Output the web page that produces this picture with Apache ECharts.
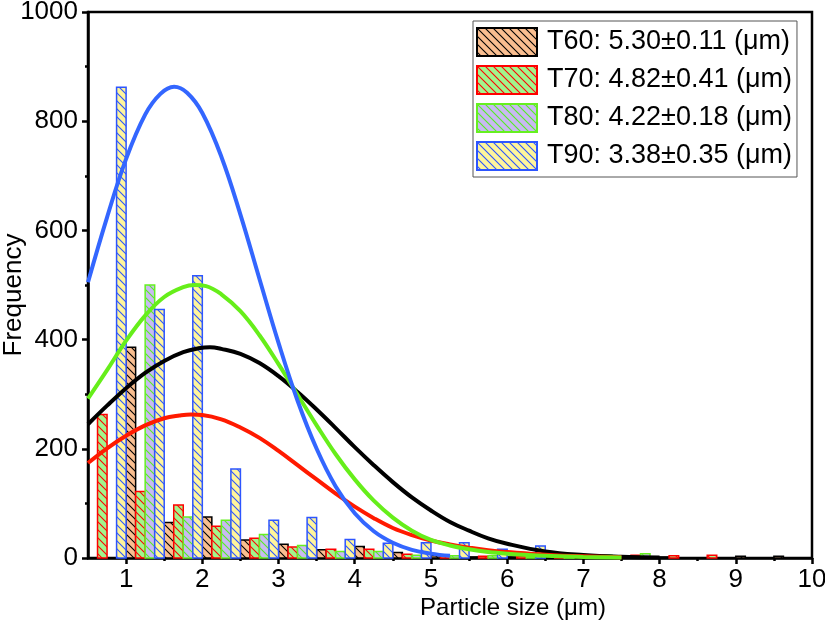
<!DOCTYPE html>
<html><head><meta charset="utf-8">
<script src="https://cdn.jsdelivr.net/npm/echarts@6/dist/echarts.min.js"></script>
<style>html,body{margin:0;padding:0;background:#fff}#c{width:825px;height:627px}</style>
</head><body><div id="c"></div>
<script>
// ---- data ----
const binStarts = [0.5, 1.0, 1.5, 2.0, 2.5, 3.0, 3.5, 4.0, 4.5, 5.0, 5.5, 6.0, 6.5, 7.0, 7.5, 8.0, 8.5, 9.0, 9.5];
const seriesNames = ['T60: 5.30±0.11 (μm)', 'T70: 4.82±0.41 (μm)', 'T80: 4.22±0.18 (μm)', 'T90: 3.38±0.35 (μm)'];
const T60 = [0, 386, 65, 75, 33, 25, 15, 21, 10, 4, 2, 2, 1, 0, 0, 2, 0, 3, 3];
const T70 = [263, 122, 97, 58, 36, 20, 16, 16, 7, 3, 3, 3, 3, 0, 5, 4, 5, 0, 0];
const T80 = [0, 500, 75, 69, 43, 23, 12, 12, 5, 4, 4, 2, 7, 5, 8, 0, 0, 0, 0];
const T90 = [862, 455, 517, 163, 69, 74, 34, 27, 28, 28, 16, 22, 0, 0, 0, 0, 0, 0, 0];

const fitXT60 = [0.5, 0.75, 1.0, 1.25, 1.5, 1.75, 1.95, 2.1, 2.25, 2.5, 2.75, 3.0, 3.25, 3.5, 3.75, 4.0, 4.25, 4.5, 4.75, 5.0, 5.25, 5.5, 5.75, 6.0, 6.5, 7.0, 7.5, 8.0];
const fitT60 = [245, 279, 311, 339, 361, 377, 384, 386, 383, 374, 357, 333, 304, 272, 238, 203, 170, 139, 111, 87, 66, 50, 36, 26, 12, 5.5, 2.2, 0.8];
const fitXT70 = [0.5, 0.75, 1.0, 1.25, 1.5, 1.7, 1.85, 2.0, 2.25, 2.5, 2.75, 3.0, 3.25, 3.5, 3.75, 4.0, 4.25, 4.5, 4.75, 5.0, 5.25, 5.5, 5.75, 6.0, 6.5, 7.0, 7.5];
const fitT70 = [174, 201, 224, 243, 256, 261, 263, 262, 254, 239, 220, 196, 170, 144, 118, 94, 73, 55, 42, 32, 25, 19, 14, 11, 6, 3, 1.5];
const fitXT80 = [0.5, 0.75, 1.0, 1.25, 1.5, 1.75, 1.9, 2.05, 2.25, 2.5, 2.75, 3.0, 3.25, 3.5, 3.75, 4.0, 4.25, 4.5, 4.75, 5.0, 5.25, 5.5, 5.75, 6.0, 6.5, 7.0, 7.5];
const fitT80 = [292, 344, 398, 444, 478, 496, 500, 498, 483, 452, 408, 355, 299, 243, 190, 144, 105, 74, 50, 33, 23, 16, 11, 8, 4, 2, 1];
const fitXT90 = [0.5, 0.75, 1.0, 1.25, 1.45, 1.63, 1.8, 2.0, 2.25, 2.5, 2.75, 3.0, 3.25, 3.5, 3.75, 4.0, 4.25, 4.5, 4.75, 5.0, 5.25];
const fitT90 = [505, 624, 731, 812, 850, 863, 852, 815, 735, 629, 511, 394, 288, 200, 131, 82, 49, 28, 15, 8, 4];

const xMajorTicks = [1, 2, 3, 4, 5, 6, 7, 8, 9, 10];
const xMinorTicks = [1.5, 2.5, 3.5, 4.5, 5.5, 6.5, 7.5, 8.5, 9.5];

// ---- styles ----
const FONT = 'Liberation Sans, Arial, sans-serif';
const subWidth = 0.125;
const barStyles = [
  {bg: '#F9BE90', line: '#000000', edge: '#000000'},
  {bg: '#A2F58C', line: '#FF0000', edge: '#FF0000'},
  {bg: '#C8BAF2', line: '#55EE22', edge: '#66F020'},
  {bg: '#FFF59C', line: '#2D55FF', edge: '#2D55FF'}
];
const lineColors = ['#000000', '#FF1A00', '#66EE1A', '#3366FF'];

function makeHatch(bg, line) {
  const c = document.createElement('canvas');
  c.width = 8; c.height = 8;
  const g = c.getContext('2d');
  g.fillStyle = bg; g.fillRect(0, 0, 8, 8);
  g.strokeStyle = line; g.lineWidth = 1.1;
  g.beginPath();
  g.moveTo(-2, -2); g.lineTo(10, 10);
  g.moveTo(-2, 6); g.lineTo(2, 10);
  g.moveTo(6, -2); g.lineTo(10, 2);
  g.stroke();
  return c;
}
function makeIcon(st) {
  const c = document.createElement('canvas');
  c.width = 62; c.height = 30;
  const g = c.getContext('2d');
  g.fillStyle = g.createPattern(makeHatch(st.bg, st.line), 'repeat');
  g.fillRect(0, 0, 62, 30);
  g.strokeStyle = st.edge; g.lineWidth = 2;
  g.strokeRect(1, 1, 60, 28);
  return 'image://' + c.toDataURL();
}
const patterns = barStyles.map(s => ({image: makeHatch(s.bg, s.line), repeat: 'repeat'}));

const barValues = [T60, T70, T80, T90];
const fitXs = [fitXT60, fitXT70, fitXT80, fitXT90];
const fitValues = [fitT60, fitT70, fitT80, fitT90];

const barSeries = barValues.map((vals, k) => ({
  name: seriesNames[k],
  type: 'custom',
  xAxisIndex: 0, yAxisIndex: 0,
  z: 2,
  data: binStarts.map((b, i) => [b, vals[i]]).filter(d => d[1] > 0),
  renderItem: function (params, api) {
    const x0 = api.value(0) + k * subWidth;
    const v = api.value(1);
    const p0 = api.coord([x0, v]);
    const p1 = api.coord([x0 + subWidth, 0]);
    return {
      type: 'rect',
      shape: {x: p0[0], y: p0[1], width: p1[0] - p0[0], height: p1[1] - p0[1]},
      style: {fill: patterns[k], stroke: barStyles[k].edge, lineWidth: 1.5}
    };
  }
}));

const lineSeries = fitValues.map((vals, k) => ({
  name: 'fit' + k,
  type: 'line',
  xAxisIndex: 0, yAxisIndex: 0,
  z: 5,
  smooth: 0.4,
  showSymbol: false,
  silent: true,
  lineStyle: {color: lineColors[k], width: 4},
  data: vals.map((v, i) => [fitXs[k][i], v])
}));

const chart = echarts.init(document.getElementById('c'), null, {renderer: 'canvas'});
chart.setOption({
  animation: false,
  backgroundColor: '#fff',
  grid: {left: 88, right: 13, top: 12, bottom: 69, outerBoundsMode: 'none', containLabel: false,
         show: true, borderColor: '#000', borderWidth: 2.5, backgroundColor: 'transparent'},
  xAxis: [
    {
      type: 'value', min: 0.5, max: 10, position: 'bottom',
      name: 'Particle size (μm)', nameLocation: 'middle', nameGap: 38, nameMoveOverlap: false,
      nameTextStyle: {fontSize: 24, fontFamily: FONT, color: '#000', padding: [0, 0, 0, 126]},
      axisLine: {show: true, onZero: false, lineStyle: {color: '#000', width: 2.5}},
      axisTick: {show: true, customValues: xMajorTicks, length: 6, lineStyle: {color: '#000', width: 2.5}},
      axisLabel: {show: true, customValues: xMajorTicks, fontSize: 26, fontFamily: FONT, color: '#000', margin: 9},
      splitLine: {show: false}
    },
    {
      type: 'value', min: 0.5, max: 10, position: 'bottom', gridIndex: 0,
      axisLine: {show: false},
      axisTick: {show: true, customValues: xMinorTicks, length: 3, lineStyle: {color: '#000', width: 2.5}},
      axisLabel: {show: false},
      splitLine: {show: false}
    }
  ],
  yAxis: [{
    type: 'value', min: 0, max: 1000, interval: 200,
    name: 'Frequency', nameLocation: 'middle', nameGap: 61, nameMoveOverlap: false,
    nameTextStyle: {fontSize: 26, fontFamily: FONT, color: '#000', padding: [0, 20, 0, 0]},
    axisLine: {show: true, lineStyle: {color: '#000', width: 2.5}},
    axisTick: {show: true, length: 6, lineStyle: {color: '#000', width: 2.5}},
    minorTick: {show: true, splitNumber: 2, length: 3, lineStyle: {color: '#000', width: 2.5}},
    axisLabel: {fontSize: 26, fontFamily: FONT, color: '#000', margin: 10, formatter: v => String(v)},
    splitLine: {show: false}
  }],
  legend: {
    orient: 'vertical', left: 473, top: 21,
    itemWidth: 62, itemHeight: 30, itemGap: 8,
    padding: [6, 5, 6, 3],
    borderColor: '#555', borderWidth: 1, backgroundColor: '#fff',
    selectedMode: false,
    textStyle: {fontSize: 27, fontFamily: FONT, color: '#000', padding: [0, 0, 0, 4]},
    data: seriesNames.map((n, i) => ({name: n, icon: makeIcon(barStyles[i])}))
  },
  series: barSeries.concat(lineSeries)
});
</script>
</body></html>
